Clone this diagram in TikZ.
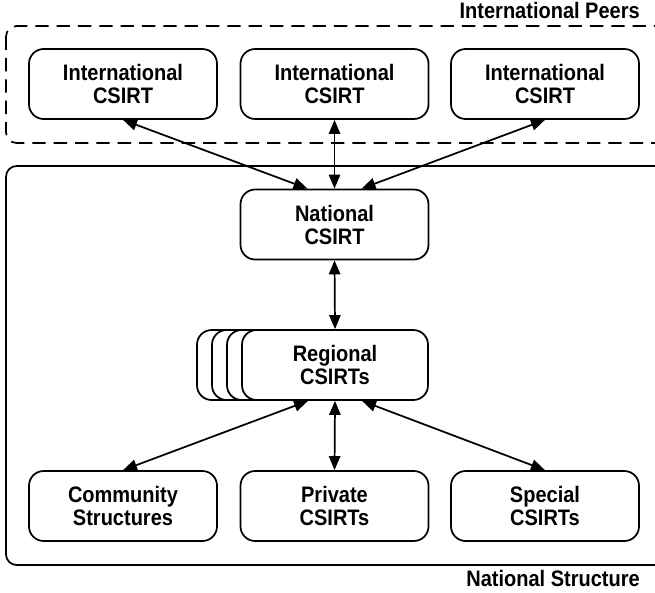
\documentclass[tikz,border=0pt]{standalone}
\usepackage{fontspec}
\usepackage{graphicx}
\setmainfont{Liberation Sans}
\usetikzlibrary{arrows.meta}
% bold, slightly tall lettering used for every label, set a little low in its box
\newcommand{\boxtext}[1]{\raisebox{-2.5pt}[\height][\depth]{\scalebox{1}[1.12]{\begin{tabular}{@{}c@{}}#1\end{tabular}}}}
\begin{document}
\begin{tikzpicture}[x=0.75pt,y=-0.75pt,
  lbl/.style={font=\bfseries\fontsize{15}{15.4}\selectfont},
  unit/.style={lbl, draw, line width=1.3pt, rounded corners=11pt, fill=white,
    minimum width=141pt, minimum height=52.5pt, align=center, inner sep=0pt},
  wide/.style={unit, minimum width=139.5pt},
  arr/.style={line width=1.3pt, {Triangle[length=10.5pt,width=8.5pt]}-{Triangle[length=10.5pt,width=8.5pt]}},
  group/.style={line width=1.3pt, rounded corners=8pt}
]
\useasboundingbox (0,0) rectangle (655,592);
\begin{scope}
\clip (0,0) rectangle (655,592);
% enclosing groups
\draw[group, dash pattern=on 10pt off 6pt] (6,26) rectangle (680,143);
\draw[group] (6,166) rectangle (680,565);
\end{scope}

% group titles
\node[lbl, anchor=base east, inner sep=0pt] (tpeers) at (640,19) {\scalebox{1}[1.12]{International Peers}};
\node[lbl, anchor=base east, inner sep=0pt] (tnat) at (640,586) {\scalebox{1}[1.12]{National Structure}};

% international peers
\node[unit] (i1) at (123,84)   {\boxtext{International\\CSIRT}};
\node[unit] (i2) at (334.5,84) {\boxtext{International\\CSIRT}};
\node[unit] (i3) at (545,84)   {\boxtext{International\\CSIRT}};

% national level
\node[unit] (nat) at (334.5,224.5) {\boxtext{National\\CSIRT}};

% stacked regional teams
\node[wide] (r3) at (290,365) {};
\node[wide] (r2) at (305,365) {};
\node[wide] (r1) at (320,365) {};
\node[wide] (reg) at (335,365) {\boxtext{Regional\\CSIRTs}};

% constituents
\node[unit] (com) at (123,506)   {\boxtext{Community\\Structures}};
\node[unit] (pri) at (334.5,506) {\boxtext{Private\\CSIRTs}};
\node[unit] (spe) at (545,506)   {\boxtext{Special\\CSIRTs}};

% links
\draw[arr] (i1.south) -- ([xshift=-20.25pt]nat.north);
\draw[arr] (i2.south) -- (nat.north);
\draw[arr] (i3.south) -- ([xshift=20.25pt]nat.north);
\draw[arr] (nat.south) -- (reg.north);
\draw[arr] ([xshift=-20.25pt]reg.south) -- (com.north);
\draw[arr] (reg.south) -- (pri.north);
\draw[arr] ([xshift=20.25pt]reg.south) -- (spe.north);
\end{tikzpicture}
\end{document}
